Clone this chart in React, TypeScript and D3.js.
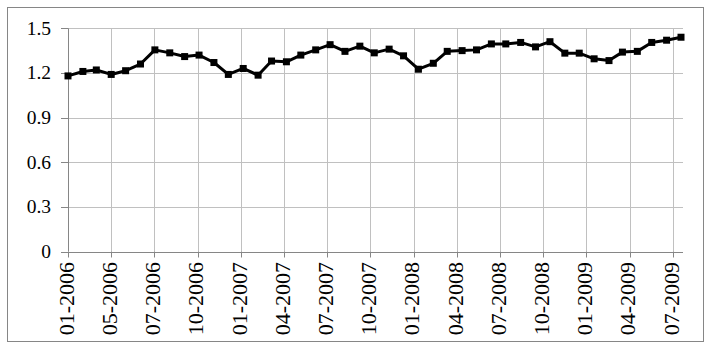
import React from "react";
import * as d3 from "d3";

const startYear = 2006;
const values = [
  1.18, 1.21, 1.22, 1.19, 1.215, 1.26, 1.355, 1.335, 1.31, 1.32, 1.27, 1.19,
  1.23, 1.185, 1.28, 1.275, 1.32, 1.355, 1.39, 1.345, 1.38, 1.335, 1.36, 1.315,
  1.225, 1.265, 1.345, 1.35, 1.355, 1.395, 1.395, 1.405, 1.375, 1.41, 1.333, 1.333,
  1.295, 1.283, 1.34, 1.345, 1.405, 1.42, 1.44,
];
const tickLabels = [
  "01-2006", "05-2006", "07-2006", "10-2006", "01-2007", "04-2007", "07-2007",
  "10-2007", "01-2008", "04-2008", "07-2008", "10-2008", "01-2009", "04-2009", "07-2009",
];
const yTicks = [0, 0.3, 0.6, 0.9, 1.2, 1.5];
const tickStepDays = 90;

const W = 712;
const H = 348;

export default function App() {
  const dates = values.map((_, i) => new Date(Date.UTC(startYear, i, 1)));
  const x = d3
    .scaleUtc()
    .domain([dates[0], dates[dates.length - 1]])
    .range([68, 681]);
  const y = d3.scaleLinear().domain([0, 1.5]).range([251.5, 28.3]);
  const tickDates = tickLabels.map((_, k) => d3.utcDay.offset(dates[0], k * tickStepDays));
  const line = d3
    .line<number>()
    .x((_, i) => x(dates[i]))
    .y((d) => y(d));
  const xEnd = 683;
  const font = "Liberation Serif";

  return (
    <svg
      width={W}
      height={H}
      fontFamily={font}
      style={{ position: "absolute", left: 0, top: 0, background: "#fff", fontFamily: font }}
    >
      <rect x={0} y={0} width={W} height={H} fill="#fff" />
      <rect x={7.5} y={7.5} width={696} height={334} fill="#fff" stroke="#868686" strokeWidth={1} />
      {/* horizontal gridlines */}
      {yTicks.map((t) => (
        <g key={"y" + t}>
          {t > 0 && (
            <line x1={68} x2={xEnd} y1={Math.round(y(t)) + 0.5} y2={Math.round(y(t)) + 0.5} stroke="#c0c0c0" />
          )}
          <line x1={61} x2={68} y1={Math.round(y(t)) + 0.5} y2={Math.round(y(t)) + 0.5} stroke="#868686" />
          <text
            x={51}
            y={y(t)}
            textAnchor="end"
            dy="0.33em"
            fontFamily={font}
            fontSize={19.5}
            fill="#000"
          >
            {String(t)}
          </text>
        </g>
      ))}
      {/* vertical gridlines */}
      {tickDates.map((d, k) => {
        const xp = Math.round(x(d)) + 0.5;
        return (
          <g key={"x" + k}>
            {k > 0 && <line x1={xp} x2={xp} y1={y(1.5)} y2={y(0)} stroke="#c0c0c0" />}
            <line x1={xp} x2={xp} y1={y(0)} y2={y(0) + 6} stroke="#868686" />
            <text
              transform={`translate(${x(d) - 1.5},262) rotate(-90)`}
              textAnchor="end"
              dy="0.33em"
              fontFamily={font}
              fontSize={22}
              fill="#000"
            >
              {tickLabels[k]}
            </text>
          </g>
        );
      })}
      {/* axes */}
      <line x1={68.5} x2={68.5} y1={y(1.5)} y2={y(0)} stroke="#868686" />
      <line x1={61} x2={xEnd} y1={Math.round(y(0)) + 0.5} y2={Math.round(y(0)) + 0.5} stroke="#868686" />
      {/* series */}
      <path d={line(values) || ""} fill="none" stroke="#000" strokeWidth={3} strokeLinejoin="round" />
      {values.map((v, i) => (
        <rect key={i} x={x(dates[i]) - 3.5} y={y(v) - 3.5} width={7} height={7} fill="#000" />
      ))}
    </svg>
  );
}
